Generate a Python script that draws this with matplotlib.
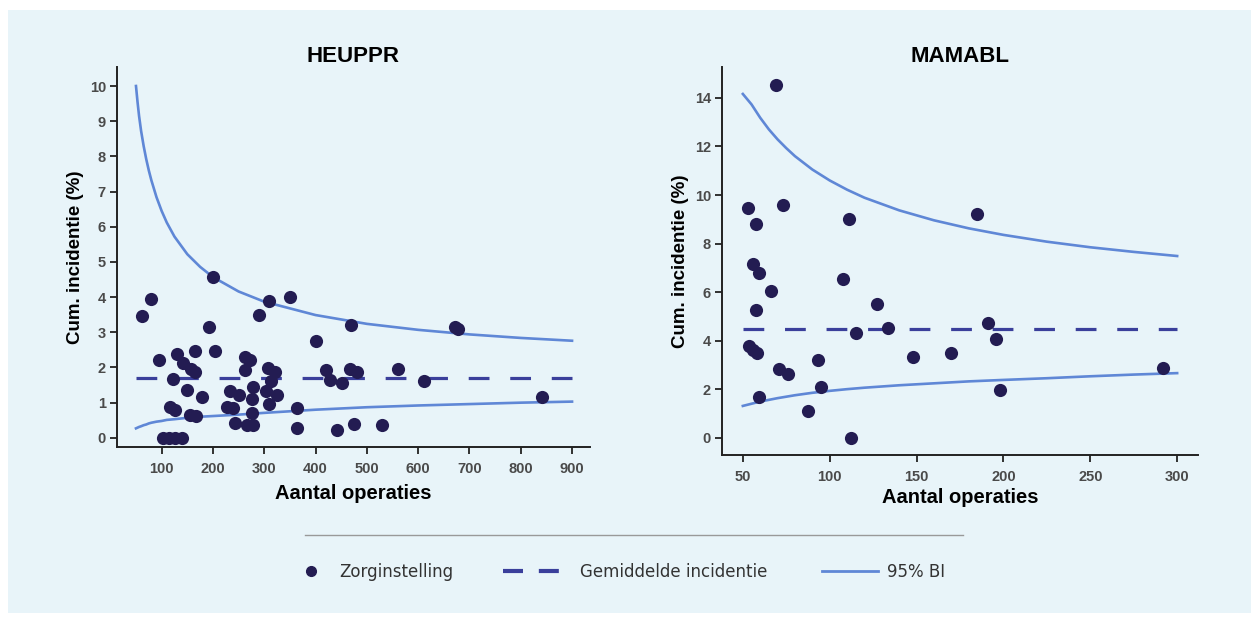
import matplotlib
matplotlib.use("Agg")
import matplotlib.pyplot as plt
from matplotlib.patches import Rectangle
from matplotlib.lines import Line2D

# --- HEUPPR: zorginstellingen (aantal operaties, cum. incidentie %) ---
heup_n = [62, 80, 193, 200, 94, 130, 142, 165, 204, 158, 165, 123, 150, 178,
          116, 126, 155, 167, 102, 114, 126, 140, 233, 250, 227, 240, 243,
          310, 351, 290, 470, 401, 262, 272, 262, 308, 321, 314, 420, 429,
          451, 467, 480, 279, 277, 303, 325, 310, 277, 364, 266, 279, 364,
          441, 475, 672, 678, 561, 611, 842, 529]
heup_inc = [3.45, 3.94, 3.14, 4.57, 2.22, 2.39, 2.14, 2.48, 2.48, 1.95, 1.88,
            1.67, 1.36, 1.15, 0.89, 0.78, 0.65, 0.61, 0.0, 0.0, 0.0, 0.0,
            1.32, 1.22, 0.89, 0.84, 0.42, 3.90, 4.01, 3.49, 3.21, 2.76, 2.31,
            2.22, 1.93, 1.98, 1.88, 1.63, 1.93, 1.65, 1.55, 1.95, 1.88, 1.45,
            1.11, 1.32, 1.22, 0.97, 0.72, 0.84, 0.37, 0.37, 0.27, 0.21, 0.40,
            3.14, 3.10, 1.95, 1.63, 1.17, 0.37]
heup_mean = 1.70
heup_mean_n = [50, 900]
heup_ci_n = [50, 53, 56, 60, 65, 70, 75, 80, 90, 100, 110, 125, 150, 175,
             200, 250, 300, 400, 500, 600, 700, 800, 900]
heup_ci_hi = [10.0, 9.55, 9.15, 8.72, 8.29, 7.92, 7.60, 7.32, 6.84, 6.45,
              6.12, 5.72, 5.22, 4.86, 4.57, 4.16, 3.87, 3.49, 3.24, 3.07,
              2.94, 2.84, 2.76]
heup_ci_lo = [0.27, 0.29, 0.31, 0.33, 0.36, 0.38, 0.41, 0.43, 0.46, 0.48,
              0.51, 0.53, 0.57, 0.60, 0.62, 0.66, 0.71, 0.80, 0.87, 0.92,
              0.96, 1.00, 1.03]

# --- MAMABL ---
mama_n = [69, 53, 57.5, 73, 111, 56, 59.5, 66, 57.5, 53.5, 56, 58, 71, 76,
          59.5, 93, 95, 87.5, 112.5, 107.5, 115, 127.5, 133.5, 148, 170,
          191, 195.5, 198, 185, 292]
mama_inc = [14.53, 9.46, 8.80, 9.59, 9.00, 7.16, 6.78, 6.07, 5.27, 3.79,
            3.62, 3.49, 2.83, 2.62, 1.70, 3.21, 2.11, 1.12, 0.0, 6.53, 4.34,
            5.50, 4.51, 3.35, 3.51, 4.72, 4.06, 1.98, 9.22, 2.88]
mama_mean = 4.47
mama_mean_n = [50, 300]
mama_ci_n = [50, 55, 60, 65, 70, 75, 80, 90, 100, 110, 120, 140, 160, 180,
             200, 225, 250, 275, 300]
mama_ci_hi = [14.16, 13.73, 13.18, 12.70, 12.29, 11.93, 11.60, 11.05, 10.60,
              10.22, 9.89, 9.37, 8.96, 8.63, 8.36, 8.08, 7.85, 7.66, 7.49]
mama_ci_lo = [1.32, 1.41, 1.50, 1.57, 1.64, 1.70, 1.76, 1.86, 1.94, 2.01,
              2.07, 2.17, 2.25, 2.33, 2.39, 2.46, 2.54, 2.61, 2.67]

# --- stijl ---
bg = '#e8f4f9'
dot_col = '#231c52'
mean_col = '#3a3f9b'
ci_col = '#5f87d6'
tick_col = '#4a4a4a'
sans = ['Liberation Sans', 'DejaVu Sans']

fig = plt.figure(figsize=(12.51, 6.17), dpi=100)
fig.patch.set_facecolor('white')
fig.add_artist(Rectangle((8 / 1251, 1 - 613 / 617), 1, 603 / 617,
                         transform=fig.transFigure, facecolor=bg,
                         edgecolor='none', zorder=-10))

ax0 = fig.add_axes([117 / 1251, 1 - 447 / 617, 473 / 1251, 380 / 617])
ax1 = fig.add_axes([722 / 1251, 1 - 455 / 617, 476 / 1251, 388 / 617])


def draw_panel(ax, n, inc, mean, mean_n, ci_n, hi, lo, title, xpad, xlpad):
    ax.set_facecolor('none')
    ax.plot(ci_n, hi, color=ci_col, lw=1.9, zorder=2)
    ax.plot(ci_n, lo, color=ci_col, lw=1.9, zorder=2)
    ax.plot(mean_n, [mean, mean], color=mean_col, lw=2.3,
            dashes=(6.5, 6.5), zorder=2)
    ax.scatter(n, inc, s=90, color=dot_col, zorder=3, linewidths=0)
    for s in ['top', 'right']:
        ax.spines[s].set_visible(False)
    for s in ['left', 'bottom']:
        ax.spines[s].set_linewidth(1.4)
        ax.spines[s].set_color('#222222')
    ax.tick_params(length=5, width=1.3, color='#222222', pad=3,
                   labelsize=10.5, labelcolor=tick_col)
    ax.tick_params(axis='x', pad=xpad)
    for lab in ax.get_xticklabels() + ax.get_yticklabels():
        lab.set_fontfamily(sans)
        lab.set_fontweight('bold')
    ax.set_xlabel('Aantal operaties', fontsize=14.5, fontweight='bold',
                  family=sans, labelpad=xlpad)
    ax.set_ylabel('Cum. incidentie (%)', fontsize=13.5, fontweight='bold',
                  family=sans, labelpad=4)
    ax.set_title(title, fontsize=16, fontweight='bold',
                 family=['Liberation Sans Narrow', 'Liberation Sans'], pad=3)


ax0.set_xlim(13, 935)
ax0.set_ylim(-0.26, 10.54)
ax0.set_xticks(range(100, 901, 100))
ax0.set_yticks(range(0, 11))
draw_panel(ax0, heup_n, heup_inc, heup_mean, heup_mean_n, heup_ci_n,
           heup_ci_hi, heup_ci_lo, 'HEUPPR', 5.5, 6)

ax1.set_xlim(38, 312)
ax1.set_ylim(-0.70, 15.27)
ax1.set_xticks(range(50, 301, 50))
ax1.set_yticks(range(0, 15, 2))
draw_panel(ax1, mama_n, mama_inc, mama_mean, mama_mean_n, mama_ci_n,
           mama_ci_hi, mama_ci_lo, 'MAMABL', 6, 3)

# scheidingslijn boven de legenda
fig.add_artist(Line2D([305 / 1251, 963 / 1251], [1 - 535 / 617] * 2,
                      transform=fig.transFigure, color='#999999', lw=1))

# legenda: drie losse items zodat afstanden per item kloppen
leg_items = [
    (Line2D([], [], ls='none', marker='o', ms=7, color=dot_col),
     'Zorginstelling', 303, 1.0, 1.2),
    (Line2D([], [], color=mean_col, lw=3, dashes=(4.8, 3.8)),
     'Gemiddelde incidentie', 503, 3.35, 1.3),
    (Line2D([], [], color=ci_col, lw=2),
     '95% BI', 822, 3.35, 0.55),
]
for h, lab, x0, hl, tp in leg_items:
    fig.legend([h], [lab], loc='center left',
               bbox_to_anchor=(x0 / 1251, 1 - 572 / 617), frameon=False,
               borderpad=0, borderaxespad=0, handlelength=hl,
               handletextpad=tp,
               prop={'family': 'DejaVu Sans', 'size': 12}, labelcolor='#333333')

fig.savefig('out.png', dpi=100, facecolor='white')
